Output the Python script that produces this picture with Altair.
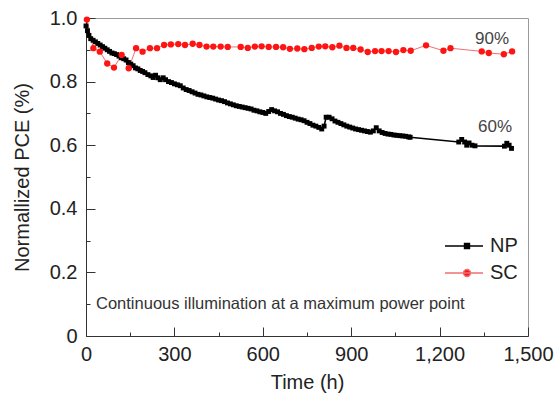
import altair as alt
import pandas as pd

# ---- data ----
np_time = [0, 5, 10, 16, 24, 32, 40, 48, 56, 64, 72, 80, 88, 96, 104, 112, 120, 128, 136, 144,
           152, 160, 168, 176, 184, 192, 200, 210, 220, 228, 236, 244, 252, 262, 270, 280, 290, 300,
           310, 320, 330, 340, 350, 360, 370, 380, 390, 400, 410, 420, 430, 440, 450, 460, 470, 480,
           490, 500, 510, 520, 530, 540, 550, 560, 570, 580, 590, 600, 610, 620, 630, 640, 650, 660,
           670, 680, 690, 700, 710, 720, 730, 740, 750, 760, 770, 780, 790, 800, 808, 815, 825, 835,
           845, 855, 865, 875, 885, 895, 905, 915, 925, 935, 945, 955, 965, 975, 985, 995, 1005, 1015,
           1025, 1035, 1045, 1055, 1065, 1075, 1085, 1095, 1100, 1265, 1275, 1285, 1292, 1300, 1310,
           1320, 1420, 1428, 1436, 1444]
np_pce = [0.975, 0.96, 0.945, 0.935, 0.93, 0.925, 0.92, 0.915, 0.91, 0.905, 0.9, 0.895, 0.89, 0.888,
          0.885, 0.88, 0.875, 0.872, 0.868, 0.86, 0.855, 0.85, 0.843, 0.84, 0.835, 0.832, 0.828, 0.822,
          0.818, 0.813, 0.82, 0.812, 0.806, 0.812, 0.806, 0.8, 0.797, 0.793, 0.79, 0.787, 0.78, 0.775,
          0.772, 0.768, 0.764, 0.76, 0.758, 0.755, 0.752, 0.75, 0.748, 0.745, 0.742, 0.74, 0.737, 0.733,
          0.73, 0.727, 0.724, 0.722, 0.72, 0.718, 0.716, 0.714, 0.71, 0.708, 0.705, 0.703, 0.7, 0.706,
          0.712, 0.708, 0.705, 0.7, 0.697, 0.693, 0.69, 0.688, 0.685, 0.682, 0.68, 0.677, 0.672, 0.668,
          0.663, 0.66, 0.656, 0.651, 0.66, 0.688, 0.688, 0.683, 0.676, 0.672, 0.668, 0.664, 0.66, 0.657,
          0.654, 0.651, 0.649, 0.647, 0.645, 0.643, 0.641, 0.645, 0.655, 0.645, 0.64, 0.637, 0.635,
          0.634, 0.632, 0.631, 0.63, 0.629, 0.628, 0.626, 0.625, 0.61, 0.618, 0.61, 0.6, 0.607, 0.6,
          0.598, 0.597, 0.606, 0.6, 0.59]

sc_time = [3, 25, 47, 72, 95, 121, 145, 170, 192, 217, 241, 265, 288, 313, 336, 362, 385, 409, 432,
           457, 481, 525, 549, 573, 596, 620, 645, 669, 692, 717, 741, 766, 790, 812, 836, 860, 884,
           907, 932, 956, 981, 1003, 1027, 1052, 1077, 1102, 1154, 1213, 1237, 1343, 1367, 1418, 1446]
sc_pce = [0.995, 0.905, 0.894, 0.857, 0.844, 0.884, 0.842, 0.905, 0.894, 0.905, 0.905, 0.915, 0.917,
          0.918, 0.915, 0.919, 0.915, 0.91, 0.91, 0.91, 0.909, 0.909, 0.906, 0.91, 0.911, 0.909, 0.909,
          0.908, 0.903, 0.904, 0.902, 0.906, 0.91, 0.911, 0.908, 0.913, 0.906, 0.906, 0.901, 0.893,
          0.896, 0.896, 0.896, 0.893, 0.899, 0.897, 0.914, 0.897, 0.905, 0.895, 0.89, 0.886, 0.895]

series_names = ["NP", "SC"]
x_major = [0, 300, 600, 900, 1200, 1500]
x_all_ticks = [0, 150, 300, 450, 600, 750, 900, 1050, 1200, 1350, 1500]
y_major = [0, 0.2, 0.4, 0.6, 0.8, 1.0]
y_all_ticks = [0, 0.1, 0.2, 0.3, 0.4, 0.5, 0.6, 0.7, 0.8, 0.9, 1.0]

df = pd.DataFrame({
    "time": np_time + sc_time,
    "pce": np_pce + sc_pce,
    "series": ["NP"] * len(np_time) + ["SC"] * len(sc_time),
})
one_row = pd.DataFrame({"k": [0]})

FONT = "Liberation Sans"
TXT = "#222222"
NP_COL = "#000000"
SC_LINE = "#f07070"
SC_PT = "#ff1414"

xs = alt.Scale(domain=[0, 1500], nice=False, zero=False)
ys = alt.Scale(domain=[0, 1], nice=False, zero=False)

x_main = alt.X("time:Q", scale=xs, axis=alt.Axis(
    title="Time (h)", values=x_major, format=",d", ticks=False, tickSize=0, grid=False,
    labelFlush=False, domainColor="#333333", labelFontSize=20, labelColor=TXT, labelPadding=8,
    titleFontSize=20, titleFontWeight="normal", titleColor=TXT, titlePadding=8,
    labelFont=FONT, titleFont=FONT))
y_main = alt.Y("pce:Q", scale=ys, axis=alt.Axis(
    title="Normallized PCE (%)", values=y_major,
    labelExpr="datum.value == 0 ? '0' : format(datum.value, '.1f')",
    ticks=False, tickSize=0, grid=False, labelFlush=False, domainColor="#333333",
    labelFontSize=20, labelColor=TXT, labelPadding=9,
    titleFontSize=20, titleFontWeight="normal", titleColor=TXT, titlePadding=17,
    labelFont=FONT, titleFont=FONT))

tick_x = alt.Axis(orient="top", offset=-318, values=x_all_ticks, labels=False, domain=False,
                  title=None, grid=False, tickColor="#333333", tickWidth=1,
                  tickSize={"condition": {"test": "datum.value % 300 === 0", "value": 9}, "value": 4})
tick_y = alt.Axis(orient="right", offset=-442, values=y_all_ticks, labels=False, domain=False,
                  title=None, grid=False, tickColor="#333333", tickWidth=1,
                  tickSize={"condition": {"test": "abs(round(datum.value * 10) % 2) < 0.5", "value": 9}, "value": 4})

x_plain = alt.X("time:Q", scale=xs, axis=None)
y_plain = alt.Y("pce:Q", scale=ys, axis=None)

base = alt.Chart(df)
line_np = base.transform_filter("datum.series == 'NP'").mark_line(
    color=NP_COL, strokeWidth=1.6).encode(x=x_main, y=y_main)
line_sc = base.transform_filter("datum.series == 'SC'").mark_line(
    color=SC_LINE, strokeWidth=1.0).encode(x=x_plain, y=y_plain)
pts_np = base.transform_filter("datum.series == 'NP'").mark_point(
    shape="square", filled=True, color=NP_COL, opacity=1, size=24, strokeWidth=0).encode(
    x=alt.X("time:Q", scale=xs, axis=tick_x), y=alt.Y("pce:Q", scale=ys, axis=tick_y))
pts_sc = base.transform_filter("datum.series == 'SC'").mark_point(
    shape="circle", filled=True, color=SC_PT, opacity=1, size=40, strokeWidth=0).encode(
    x=x_plain, y=y_plain)

# legend-only layer: no rows survive the filter, the legend is built from the scale domain
np_symbol = "M-1.9,0L1.9,0M0.05,-0.25L0.55,-0.25L0.55,0.25L0.05,0.25Z"
sc_symbol = "M-1.9,0L1.9,0M-0.05,0A0.35,0.35,0,1,0,0.65,0A0.35,0.35,0,1,0,-0.05,0Z"
leg = alt.Legend(title=None, orient="none", legendX=367, legendY=217, symbolSize=400,
                 symbolStrokeWidth=1.4, labelFontSize=20, labelFont=FONT, labelColor=TXT,
                 labelOffset=15, padding=0, rowPadding=6)
legend_layer = base.transform_filter("false").mark_point(
    filled=True, opacity=1, strokeWidth=1.4).encode(
    x=x_plain, y=y_plain,
    shape=alt.Shape("series:N", scale=alt.Scale(domain=series_names, range=[np_symbol, sc_symbol]),
                    legend=leg),
    fill=alt.Fill("series:N", scale=alt.Scale(domain=series_names, range=[NP_COL, SC_PT]),
                  legend=leg),
    stroke=alt.Stroke("series:N", scale=alt.Scale(domain=series_names, range=[NP_COL, SC_LINE]),
                      legend=leg),
)

lbl90 = alt.Chart(one_row).mark_text(fontSize=17, font=FONT, color="#444444", align="center",
                                     baseline="middle").encode(
    x=alt.X(datum=1378, scale=xs, axis=None), y=alt.Y(datum=0.9355, scale=ys, axis=None),
    text=alt.value("90%"))
lbl60 = alt.Chart(one_row).mark_text(fontSize=17, font=FONT, color="#444444", align="center",
                                     baseline="middle").encode(
    x=alt.X(datum=1388, scale=xs, axis=None), y=alt.Y(datum=0.656, scale=ys, axis=None),
    text=alt.value("60%"))
note = alt.Chart(one_row).mark_text(fontSize=16.5, font=FONT, color="#333333", align="left",
                                    baseline="middle").encode(
    x=alt.X(datum=34, scale=xs, axis=None), y=alt.Y(datum=0.1, scale=ys, axis=None),
    text=alt.value("Continuous illumination at a maximum power point"))

chart = alt.layer(line_np, line_sc, pts_np, pts_sc, legend_layer, lbl90, lbl60, note).resolve_axis(
    x="independent", y="independent"
).properties(
    width=442, height=318,
    autosize=alt.AutoSizeParams(type="none"),
    padding={"left": 86, "top": 18, "right": 28, "bottom": 59},
).configure(font=FONT).configure_view(stroke="#9a9a9a", strokeWidth=1)

chart.save("out.html", embed_options={"renderer": "svg", "actions": False})
